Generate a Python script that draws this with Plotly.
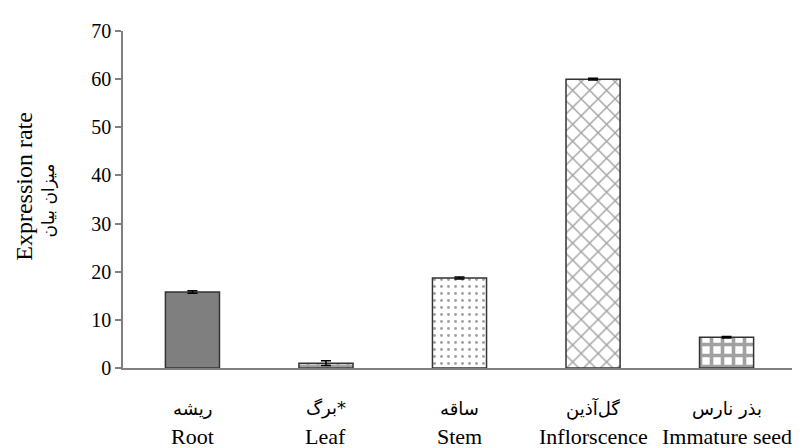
import plotly.graph_objects as go

categories_en = ["Root", "Leaf", "Stem", "Inflorscence", "Immature seed"]
categories_fa = ["ریشه", "برگ*", "ساقه", "گل‌آذین", "بذر نارس"]
values = [15.8, 1.0, 18.7, 60.0, 6.4]
errors = [0.25, 0.5, 0.2, 0.2, 0.15]
y_ticks = [0, 10, 20, 30, 40, 50, 60, 70]
y_title_en = "Expression rate"
y_title_fa = "میزان بیان"

fills = ["#7f7f7f", "white", "white", "white", "white"]
shapes = ["", "+", ".", "x", "+"]
solid = [0.3, 0.5, 0.14, 0.22, 0.55]
psize = [8, 10, 7, 12, 11]

pos = list(range(len(categories_en)))

fig = go.Figure()
fig.add_trace(go.Bar(
    x=pos,
    y=values,
    marker=dict(
        color=fills,
        line=dict(color="#333333", width=1.5),
        pattern=dict(shape=shapes, fgcolor="black", bgcolor="white",
                     solidity=solid, size=psize, fillmode="overlay"),
    ),
    error_y=dict(type="data", array=errors, visible=True, color="black",
                 thickness=1.5, width=5),
    width=0.405,
))

annotations = []
for i, (fa, en) in enumerate(zip(categories_fa, categories_en)):
    annotations.append(dict(x=i, xref="x", y=0, yref="paper", yanchor="middle",
                            yshift=-40, text=fa, showarrow=False,
                            font=dict(size=18, family="DejaVu Sans")))
    annotations.append(dict(x=i, xref="x", y=0, yref="paper", yanchor="middle",
                            yshift=-68, text=en, showarrow=False,
                            font=dict(size=22)))
annotations.append(dict(x=0, xref="paper", xshift=-99, xanchor="center",
                        y=0.538, yref="paper", yanchor="middle", textangle=-90,
                        text=y_title_en, showarrow=False, font=dict(size=24)))
annotations.append(dict(x=0, xref="paper", xshift=-75, xanchor="center",
                        y=0.497, yref="paper", yanchor="middle", textangle=-90,
                        text=y_title_fa, showarrow=False,
                        font=dict(size=17, family="DejaVu Sans")))

fig.update_layout(
    width=801, height=448,
    margin=dict(l=115, r=17, t=16, b=88),
    paper_bgcolor="white", plot_bgcolor="white",
    showlegend=False,
    font=dict(family="Liberation Serif, DejaVu Sans, serif", size=20, color="black"),
    xaxis=dict(
        showticklabels=False,
        showline=True, linecolor="#808080", linewidth=1.5,
        ticks="", showgrid=False,
        range=[-0.52, 4.49],
    ),
    yaxis=dict(
        range=[0, 70], tickvals=y_ticks,
        showline=True, linecolor="#808080", linewidth=1.5,
        ticks="outside", ticklen=6, tickcolor="#808080", tickwidth=1.5,
        showgrid=False, zeroline=False,
        tickfont=dict(size=20),
    ),
    annotations=annotations,
)

fig.write_html("out.html")
